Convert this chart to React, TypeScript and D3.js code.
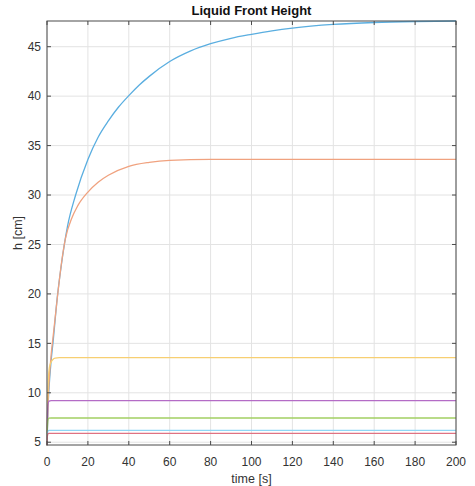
import React, { useEffect, useRef } from 'react';
import * as d3 from 'd3';

// series: [time s, height cm] pairs
const blue: [number, number][] = [
  [0, 4.7], [0.5, 8.5], [1, 10.5], [2, 13.2], [3, 15.2], [5, 19.6], [7, 22.9], [10, 26.8],
  [14, 30.0], [20, 33.6], [25, 35.85], [30, 37.5], [35, 38.9], [40, 40.05], [45, 41.1],
  [50, 42.0], [60, 43.5], [70, 44.55], [80, 45.3], [90, 45.85], [100, 46.25], [110, 46.6],
  [120, 46.88], [140, 47.25], [160, 47.45], [180, 47.55], [200, 47.6],
];
const orange: [number, number][] = [
  [0, 4.7], [0.5, 9], [1, 11], [2, 13.8], [3, 15.7], [4, 17.6], [5, 19.5], [7, 23],
  [9, 25.6], [12, 27.6], [15, 28.9], [20, 30.3], [25, 31.3], [30, 32], [40, 32.9],
  [50, 33.3], [60, 33.5], [80, 33.6], [100, 33.6], [200, 33.6],
];
const yellow: [number, number][] = [
  [0, 4.7], [0.3, 9], [0.7, 11.5], [1.2, 12.6], [2, 13.1], [3, 13.4], [4, 13.5],
  [6, 13.55], [200, 13.55],
];
const purple: [number, number][] = [[0, 4.7], [0.2, 7.5], [0.5, 8.8], [1, 9.15], [2, 9.2], [200, 9.2]];
const green: [number, number][] = [[0, 4.7], [0.2, 6.6], [0.5, 7.3], [1, 7.43], [2, 7.45], [200, 7.45]];
const cyan: [number, number][] = [[0, 4.7], [0.2, 5.8], [0.5, 6.15], [1, 6.2], [200, 6.2]];
const red: [number, number][] = [[0, 4.7], [0.2, 5.6], [0.5, 5.88], [1, 5.9], [200, 5.9]];

const series = [blue, orange, yellow, purple, green, cyan, red];
const colors = ['#5aaee0', '#f0a27f', '#f7cf72', '#b46cc6', '#a2cf63', '#8fd6f5', '#df7282'];

const xTicks = [0, 20, 40, 60, 80, 100, 120, 140, 160, 180, 200];
const yTicks = [5, 10, 15, 20, 25, 30, 35, 40, 45];

const W = 475;
const H = 486;

export default function App() {
  const svgRef = useRef<SVGSVGElement>(null);

  useEffect(() => {
    const margin = { top: 21, right: 19, bottom: 41, left: 47 };
    const width = W - margin.left - margin.right;
    const height = H - margin.top - margin.bottom;

    const svg = d3.select(svgRef.current);
    svg.selectAll('*').remove();
    svg.attr('width', W).attr('height', H);

    svg.append('rect').attr('width', W).attr('height', H).attr('fill', '#fff');

    const g = svg.append('g').attr('transform', `translate(${margin.left},${margin.top})`);

    const x = d3.scaleLinear().domain([0, 200]).range([0, width]);
    const y = d3.scaleLinear().domain([4.72, 47.6]).range([height, 0]);

    // grid
    g.selectAll('.gx').data(xTicks).enter().append('line')
      .attr('x1', d => x(d)).attr('x2', d => x(d))
      .attr('y1', 0).attr('y2', height)
      .attr('stroke', '#e3e3e3').attr('stroke-width', 1);
    g.selectAll('.gy').data(yTicks).enter().append('line')
      .attr('x1', 0).attr('x2', width)
      .attr('y1', d => y(d)).attr('y2', d => y(d))
      .attr('stroke', '#e3e3e3').attr('stroke-width', 1);

    // curves
    const line = d3.line<[number, number]>()
      .x(d => x(d[0]))
      .y(d => y(d[1]))
      .curve(d3.curveMonotoneX);

    g.selectAll('.curve').data(series).enter().append('path')
      .attr('d', d => line(d))
      .attr('fill', 'none')
      .attr('stroke', (d, i) => colors[i])
      .attr('stroke-width', 1.3);

    // box + inward ticks on all sides
    const axisColor = '#4a4a4a';
    g.append('rect')
      .attr('width', width).attr('height', height)
      .attr('fill', 'none').attr('stroke', axisColor).attr('stroke-width', 1);

    const tl = 4;
    g.selectAll('.tb').data(xTicks).enter().append('line')
      .attr('x1', d => x(d)).attr('x2', d => x(d))
      .attr('y1', height).attr('y2', height - tl)
      .attr('stroke', axisColor);
    g.selectAll('.tt').data(xTicks).enter().append('line')
      .attr('x1', d => x(d)).attr('x2', d => x(d))
      .attr('y1', 0).attr('y2', tl)
      .attr('stroke', axisColor);
    g.selectAll('.tlft').data(yTicks).enter().append('line')
      .attr('x1', 0).attr('x2', tl)
      .attr('y1', d => y(d)).attr('y2', d => y(d))
      .attr('stroke', axisColor);
    g.selectAll('.trt').data(yTicks).enter().append('line')
      .attr('x1', width).attr('x2', width - tl)
      .attr('y1', d => y(d)).attr('y2', d => y(d))
      .attr('stroke', axisColor);

    const font = 'Liberation Sans, Arial, Helvetica, sans-serif';
    const textColor = '#333';

    // tick labels
    g.selectAll('.xl').data(xTicks).enter().append('text')
      .attr('x', d => x(d)).attr('y', height + 21)
      .attr('text-anchor', 'middle')
      .attr('font-family', font).attr('font-size', 12).attr('fill', textColor)
      .text(d => d);
    g.selectAll('.yl').data(yTicks).enter().append('text')
      .attr('x', -6).attr('y', d => y(d)).attr('dy', '0.35em')
      .attr('text-anchor', 'end')
      .attr('font-family', font).attr('font-size', 12).attr('fill', textColor)
      .text(d => d);

    // labels
    g.append('text')
      .attr('x', width / 2).attr('y', height + 38)
      .attr('text-anchor', 'middle')
      .attr('font-family', font).attr('font-size', 12.5).attr('fill', textColor)
      .text('time [s]');
    g.append('text')
      .attr('transform', `translate(${-25},${height / 2}) rotate(-90)`)
      .attr('text-anchor', 'middle')
      .attr('font-family', font).attr('font-size', 12.5).attr('fill', textColor)
      .text('h [cm]');
    g.append('text')
      .attr('x', width / 2).attr('y', -6)
      .attr('text-anchor', 'middle')
      .attr('font-family', font).attr('font-size', 13).attr('font-weight', 'bold').attr('fill', '#111')
      .text('Liquid Front Height');
  }, []);

  return (
    <div style={{ position: 'absolute', left: 0, top: 0 }}>
      <svg ref={svgRef}></svg>
    </div>
  );
}
